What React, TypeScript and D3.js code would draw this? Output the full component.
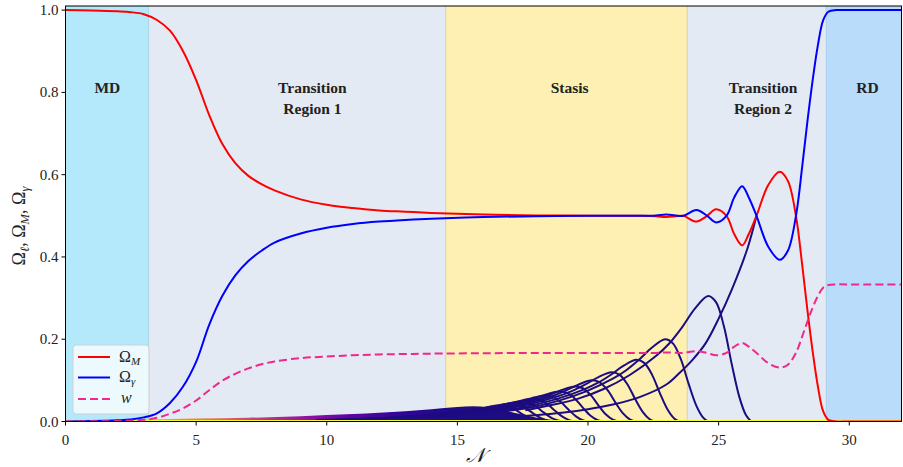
import React from "react";
import * as d3 from "d3";

const W = 903;
const H = 467;
const M = { left: 65.5, right: 1.5, top: 6, bottom: 45.5 };

// shared grid for the background fractions and w
const nGrid = [0, 1, 2, 2.5, 3, 3.5, 4, 4.5, 5, 5.5, 6, 6.5, 7, 7.5, 8, 9, 10, 11, 12, 13, 14, 16, 18, 20, 22, 22.6, 23.0, 23.35, 23.65, 24.15, 24.56, 24.9, 25.3, 25.6, 25.9, 26.15, 26.45, 26.9, 27.34, 27.65, 27.96, 28.2, 28.4, 28.6, 28.8, 29.0, 29.2, 29.5, 30, 32];
const omegaM = [1.0, 0.999, 0.997, 0.995, 0.99, 0.976, 0.95, 0.9, 0.83, 0.745, 0.675, 0.628, 0.597, 0.577, 0.562, 0.54, 0.527, 0.519, 0.513, 0.51, 0.507, 0.503, 0.501, 0.5, 0.5, 0.499, 0.497, 0.499, 0.5, 0.486, 0.5, 0.516, 0.5, 0.455, 0.428, 0.455, 0.5, 0.575, 0.607, 0.585, 0.5, 0.38, 0.27, 0.17, 0.085, 0.025, 0.004, 0, 0, 0];
const omegaGamma = [0, 0.001, 0.003, 0.005, 0.01, 0.02, 0.045, 0.085, 0.145, 0.235, 0.305, 0.355, 0.39, 0.415, 0.435, 0.457, 0.471, 0.48, 0.486, 0.49, 0.493, 0.497, 0.499, 0.5, 0.5, 0.501, 0.503, 0.501, 0.5, 0.514, 0.5, 0.484, 0.5, 0.545, 0.572, 0.545, 0.5, 0.425, 0.393, 0.415, 0.5, 0.62, 0.73, 0.83, 0.915, 0.975, 0.996, 1, 1, 1];
const wEff = [0, 0.0005, 0.001, 0.002, 0.004, 0.009, 0.019, 0.032, 0.051, 0.076, 0.099, 0.116, 0.129, 0.139, 0.146, 0.154, 0.158, 0.161, 0.163, 0.164, 0.165, 0.166, 0.1667, 0.1667, 0.1667, 0.1668, 0.168, 0.167, 0.1667, 0.171, 0.1667, 0.161, 0.1667, 0.182, 0.191, 0.182, 0.1667, 0.142, 0.131, 0.138, 0.1667, 0.207, 0.243, 0.277, 0.305, 0.325, 0.332, 0.3333, 0.3333, 0.3333];

// individual Omega_l curves that can be told apart: [N, value]
const omegaL12 = [[9.6, 0.0034], [10.6, 0.0049], [11.6, 0.0068], [12.6, 0.0099], [13.6, 0.0141], [14.6, 0.0198], [15.1, 0.0236], [15.6, 0.0285], [16.1, 0.0342], [16.6, 0.038], [16.9, 0.0361], [17.2, 0.0289], [17.5, 0.0175], [17.8, 0.0072], [18.05, 0.0019], [18.25, 0]];
const omegaL11 = [[10, 0.0039], [11, 0.0056], [12, 0.0077], [13, 0.0112], [14, 0.0159], [15, 0.0224], [15.5, 0.0267], [16, 0.0323], [16.5, 0.0387], [17, 0.043], [17.3, 0.0409], [17.6, 0.0327], [17.9, 0.0198], [18.2, 0.0082], [18.45, 0.0022], [18.65, 0]];
const omegaL10 = [[10.4, 0.0043], [11.4, 0.0062], [12.4, 0.0086], [13.4, 0.0125], [14.4, 0.0178], [15.4, 0.025], [15.9, 0.0298], [16.4, 0.036], [16.9, 0.0432], [17.4, 0.048], [17.7, 0.0456], [18.0, 0.0365], [18.3, 0.0221], [18.6, 0.0091], [18.85, 0.0024], [19.05, 0]];
const omegaL9 = [[10.85, 0.005], [11.85, 0.0072], [12.85, 0.0099], [13.85, 0.0143], [14.85, 0.0204], [15.85, 0.0286], [16.35, 0.0341], [16.85, 0.0413], [17.35, 0.0495], [17.85, 0.055], [18.15, 0.0523], [18.45, 0.0418], [18.75, 0.0253], [19.05, 0.0105], [19.3, 0.0028], [19.5, 0]];
const omegaL8 = [[11.35, 0.0057], [12.35, 0.0082], [13.35, 0.0113], [14.35, 0.0164], [15.35, 0.0233], [16.35, 0.0328], [16.85, 0.0391], [17.35, 0.0473], [17.85, 0.0567], [18.35, 0.063], [18.65, 0.0599], [18.95, 0.0479], [19.25, 0.029], [19.55, 0.012], [19.8, 0.0032], [20.0, 0]];
const omegaL7 = [[11.9, 0.0066], [12.9, 0.0095], [13.9, 0.0131], [14.9, 0.019], [15.9, 0.027], [16.9, 0.038], [17.4, 0.0453], [17.9, 0.0548], [18.4, 0.0657], [18.9, 0.073], [19.2, 0.0694], [19.5, 0.0555], [19.8, 0.0336], [20.1, 0.0139], [20.35, 0.0037], [20.55, 0]];
const omegaL6 = [[12.5, 0.0077], [13.5, 0.011], [14.5, 0.0153], [15.5, 0.0221], [16.5, 0.0315], [17.5, 0.0442], [18.0, 0.0527], [18.5, 0.0638], [19.0, 0.0765], [19.5, 0.085], [19.8, 0.0808], [20.1, 0.0646], [20.4, 0.0391], [20.7, 0.0162], [20.95, 0.0043], [21.15, 0]];
const omegaL5 = [[13.15, 0.009], [14.15, 0.013], [15.15, 0.018], [16.15, 0.026], [17.15, 0.037], [18.15, 0.052], [18.65, 0.062], [19.15, 0.075], [19.65, 0.09], [20.15, 0.1], [20.45, 0.095], [20.75, 0.076], [21.05, 0.046], [21.35, 0.019], [21.6, 0.005], [21.8, 0]];
const omegaL4 = [[13.9, 0.0108], [14.9, 0.0156], [15.9, 0.0216], [16.9, 0.0312], [17.9, 0.0444], [18.9, 0.0624], [19.4, 0.0744], [19.9, 0.09], [20.4, 0.108], [20.9, 0.12], [21.2, 0.114], [21.5, 0.0912], [21.8, 0.0552], [22.1, 0.0228], [22.35, 0.006], [22.55, 0]];
const omegaL3 = [[14.85, 0.0135], [15.85, 0.0195], [16.85, 0.027], [17.85, 0.039], [18.85, 0.0555], [19.85, 0.078], [20.35, 0.093], [20.85, 0.1125], [21.35, 0.135], [21.85, 0.15], [22.15, 0.1425], [22.45, 0.114], [22.75, 0.069], [23.05, 0.0285], [23.3, 0.0075], [23.5, 0]];
const omegaL2 = [[15.95, 0.018], [16.95, 0.026], [17.95, 0.036], [18.95, 0.052], [19.95, 0.074], [20.95, 0.104], [21.45, 0.124], [21.95, 0.15], [22.45, 0.18], [22.95, 0.2], [23.25, 0.19], [23.55, 0.152], [23.85, 0.092], [24.15, 0.038], [24.4, 0.01], [24.6, 0]];
const omegaL1 = [[17.6, 0.027], [18.6, 0.04], [19.6, 0.055], [20.6, 0.079], [21.6, 0.113], [22.6, 0.159], [23.1, 0.189], [23.6, 0.229], [24.1, 0.275], [24.6, 0.305], [24.9, 0.29], [25.2, 0.232], [25.5, 0.14], [25.8, 0.058], [26.05, 0.015], [26.25, 0]];
const omegaLLast = [[15, 0.006], [16, 0.008], [17, 0.011], [18, 0.015], [19, 0.021], [20, 0.03], [21, 0.042], [22, 0.06], [23, 0.09], [23.5, 0.118], [24, 0.15], [24.5, 0.19], [25, 0.25], [25.5, 0.32], [26.1, 0.42], [26.45, 0.5]];
const omegaLCurves = [omegaL12, omegaL11, omegaL10, omegaL9, omegaL8, omegaL7, omegaL6, omegaL5, omegaL4, omegaL3, omegaL2, omegaL1, omegaLLast];

// dense bundle of early species, top edge
const bandN = [0, 3, 5, 7, 9, 11, 12, 13, 14, 15, 15.6, 16.2, 16.8, 17.4, 18, 18.5, 19, 19.5];
const bandTop = [0.004, 0.005, 0.007, 0.009, 0.013, 0.018, 0.021, 0.025, 0.03, 0.035, 0.037, 0.034, 0.027, 0.018, 0.01, 0.005, 0.002, 0];
const bandStops = [[0, "#f0f921"], [3.5, "#fca636"], [6, "#e16462"], [8, "#b12a90"], [9.5, "#8a0da4"], [11, "#5c02a4"], [13, "#2f0596"], [15, "#1d0c84"], [32, "#1d0c84"]];

const regionEdges = [0, 3.18, 14.55, 23.8, 29.12, 32];
const regionFills = ["#b3e9fb", "#e4eaf3", "#fdf0b2", "#e4eaf3", "#badcfb"];
const regionLabels = [["MD"], ["Transition", "Region 1"], ["Stasis"], ["Transition", "Region 2"], ["RD"]];
const regionLabelN = [1.6, 9.45, 19.3, 26.7, 30.7];

const xTicks = [0, 5, 10, 15, 20, 25, 30];
const yTicks = [0, 0.2, 0.4, 0.6, 0.8, 1.0];

const serif = "'Liberation Serif', 'DejaVu Serif', serif";

export default function App() {
  const x = d3.scaleLinear().domain([0, 32]).range([M.left, W - M.right]);
  const y = d3.scaleLinear().domain([0, 1.01]).range([H - M.bottom, M.top]);
  const x0 = x(0), x1 = x(32), y0 = y(0), y1 = y(1.01);

  const gridLine = (vals: number[]) =>
    d3.line<number>().x((_, i) => x(nGrid[i])).y((d) => y(d)).curve(d3.curveCatmullRom.alpha(0.5))(vals) || "";
  const ptLine = d3.line<number[]>().x((d) => x(d[0])).y((d) => y(d[1])).curve(d3.curveCatmullRom.alpha(0.5));
  const bandArea = d3.area<number>().x((_, i) => x(bandN[i])).y0(y(0)).y1((d) => y(d)).curve(d3.curveMonotoneX);

  return (
    <svg width={W} height={H} style={{ position: "absolute", left: 0, top: 0 }}>
      <defs>
        <clipPath id="plot">
          <rect x={x0} y={y1} width={x1 - x0} height={y0 - y1} />
        </clipPath>
        <linearGradient id="band" gradientUnits="userSpaceOnUse" x1={x0} x2={x1} y1={0} y2={0}>
          {bandStops.map((s, i) => (
            <stop key={i} offset={(s[0] as number) / 32} stopColor={s[1] as string} />
          ))}
        </linearGradient>
      </defs>
      <rect x={0} y={0} width={W} height={H} fill="#fff" />
      <g clipPath="url(#plot)">
        {regionFills.map((c, i) => (
          <rect key={i} x={x(regionEdges[i])} y={y1} width={x(regionEdges[i + 1]) - x(regionEdges[i])} height={y0 - y1} fill={c} />
        ))}
        <line x1={x(3.18)} x2={x(3.18)} y1={y1} y2={y0} stroke="#a9d6ea" strokeWidth={1} />
        <line x1={x(14.55)} x2={x(14.55)} y1={y1} y2={y0} stroke="#ddd6b4" strokeWidth={1.2} />
        <line x1={x(23.8)} x2={x(23.8)} y1={y1} y2={y0} stroke="#ddd6b4" strokeWidth={1.2} />
        <line x1={x(29.12)} x2={x(29.12)} y1={y1} y2={y0} stroke="#a8cbee" strokeWidth={1} />

        {regionLabels.map((lines, i) =>
          lines.map((t, j) => (
            <text key={i + "-" + j} x={x(regionLabelN[i])} y={y(0.81) + j * 21 + 5} textAnchor="middle" fontFamily={serif} fontWeight="bold" fontSize={15.5} fill="#222">
              {t}
            </text>
          ))
        )}

        <path d={bandArea(bandTop) || ""} fill="url(#band)" />
        {omegaLCurves.map((c, i) => (
          <path key={i} d={ptLine(c) || ""} fill="none" stroke="#1d0c80" strokeWidth={2} />
        ))}
        <line x1={x0} x2={x1} y1={y(0)} y2={y(0)} stroke="#f0f921" strokeWidth={3} />

        <path d={gridLine(omegaM)} fill="none" stroke="#ff0000" strokeWidth={2} />
        <path d={gridLine(omegaGamma)} fill="none" stroke="#0000ff" strokeWidth={2} />
        <path d={gridLine(wEff)} fill="none" stroke="#f0288c" strokeWidth={2} strokeDasharray="8,4" />
      </g>

      <rect x={x0} y={y1} width={x1 - x0} height={y0 - y1} fill="none" stroke="#000" strokeWidth={1} />

      {xTicks.map((t) => (
        <g key={t}>
          <line x1={x(t)} x2={x(t)} y1={y0} y2={y0 + 4} stroke="#000" />
          <text x={x(t)} y={y0 + 23} textAnchor="middle" fontFamily={serif} fontSize={15} fill="#222">{t}</text>
        </g>
      ))}
      {yTicks.map((t) => (
        <g key={t}>
          <line x1={x0 - 4} x2={x0} y1={y(t)} y2={y(t)} stroke="#000" />
          <text x={x0 - 7} y={y(t) + 5} textAnchor="end" fontFamily={serif} fontSize={15} fill="#222">{t.toFixed(1)}</text>
        </g>
      ))}

      <text x={475} y={462} textAnchor="middle" fontFamily={serif} fontStyle="italic" fontSize={20} fill="#222">𝒩</text>
      <text transform={`translate(25, 226) rotate(-90)`} textAnchor="middle" fontFamily={serif} fontSize={18} fill="#222">
        Ω<tspan fontSize={12.5} fontStyle="italic" dy={4}>ℓ</tspan><tspan dy={-4}>, Ω</tspan><tspan fontSize={12.5} fontStyle="italic" dy={4}>M</tspan><tspan dy={-4}>, Ω</tspan><tspan fontSize={12.5} fontStyle="italic" dy={4}>γ</tspan>
      </text>

      <g>
        <rect x={73} y={345} width={76} height={69} rx={3} fill="#ffffff" fillOpacity={0.75} stroke="#d0d0d0" />
        <line x1={78} x2={110} y1={357} y2={357} stroke="#ff0000" strokeWidth={2} />
        <line x1={78} x2={110} y1={377.5} y2={377.5} stroke="#0000ff" strokeWidth={2} />
        <line x1={78} x2={110} y1={399} y2={399} stroke="#f0288c" strokeWidth={2} strokeDasharray="8,4" />
        <text x={119} y={362} fontFamily={serif} fontSize={16} fill="#222">Ω<tspan fontSize={11} fontStyle="italic" dy={3}>M</tspan></text>
        <text x={119} y={382} fontFamily={serif} fontSize={16} fill="#222">Ω<tspan fontSize={11} fontStyle="italic" dy={3}>γ</tspan></text>
        <text x={121} y={403} fontFamily={serif} fontSize={16} fontStyle="italic" fill="#222">w</text>
      </g>
    </svg>
  );
}
